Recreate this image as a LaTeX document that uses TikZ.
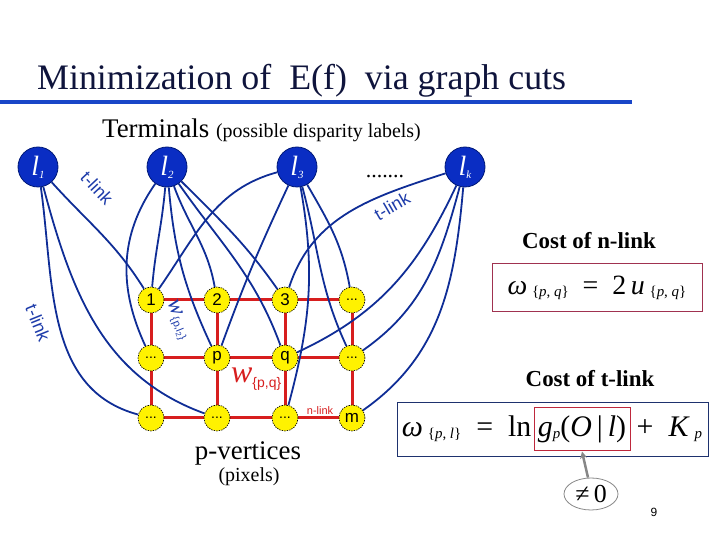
\documentclass[tikz,border=0pt]{standalone}
\usepackage{fontspec}
\setmainfont{Liberation Serif}
\setsansfont{Liberation Sans}
\usetikzlibrary{shapes.geometric,arrows.meta,backgrounds}
\definecolor{titlecol}{RGB}{15,20,60}
\definecolor{titleline}{RGB}{25,70,200}
\definecolor{termfill}{RGB}{10,45,195}
\definecolor{termdraw}{RGB}{0,25,120}
\definecolor{linkblue}{RGB}{15,45,150}
\definecolor{labblue}{RGB}{30,60,170}
\definecolor{gridred}{RGB}{215,30,30}
\definecolor{nboxcol}{RGB}{160,50,80}
\definecolor{tboxcol}{RGB}{30,50,110}
\definecolor{gboxcol}{RGB}{190,40,60}
\definecolor{arrgray}{RGB}{135,135,135}
\newcommand{\myfs}[1]{\fontsize{#1}{#1}\selectfont}
\newcommand{\tlab}[1]{\myfs{28}\textit{l}\raisebox{-3bp}{\myfs{11}\textit{#1}}}
\begin{document}
\begin{tikzpicture}[x=1bp,y=1bp,
  term/.style={circle, fill=termfill, draw=termdraw, line width=0.8bp, minimum size=40bp, inner sep=0, text=white},
  pv/.style={circle, fill=yellow, draw=black, line width=0.6bp, dash pattern=on 1.5bp off 1bp, minimum size=26bp, inner sep=0, font=\sffamily\myfs{17}},
  nl/.style={draw=gridred, line width=3bp},
  tl/.style={draw=linkblue, line width=1.8bp},
  tlabel/.style={text=labblue, font=\sffamily\myfs{18}, inner sep=0},
  plain/.style={inner sep=0}]
\useasboundingbox (0,0) rectangle (720,540);
% title
\node[plain, anchor=base west, text=titlecol] (title) at (37,450) {\myfs{36}Minimization of\ \ E(f)\ \ via graph cuts};
\coordinate (tlA) at (0,438);
\coordinate (tlB) at (632,438);
\draw[titleline, line width=4bp] (tlA) -- (tlB);
\node[plain, anchor=base west] (terms) at (102,402) {\myfs{27}Terminals {\myfs{20}(possible disparity labels)}};
% terminals
\node[term] (l1) at (38,373) {\tlab{1}};
\node[term] (l2) at (167,373) {\tlab{2}};
\node[term] (l3) at (297,373) {\tlab{3}};
\node[term] (lk) at (465,373) {\tlab{k}};
\node[plain, anchor=base] (dots) at (385,362) {\myfs{22}.......};
% pixel vertices
\node[pv] (a1) at (151,240) {1};
\node[pv] (a2) at (217,240) {2};
\node[pv] (a3) at (285,240) {3};
\node[pv] (a4) at (352,240) {\myfs{14}...};
\node[pv] (b1) at (151,182) {\myfs{14}...};
\node[pv] (b2) at (217,182) {p};
\node[pv] (b3) at (285,182) {q};
\node[pv] (b4) at (352,182) {\myfs{14}...};
\node[pv] (c1) at (151,122) {\myfs{14}...};
\node[pv] (c2) at (217,122) {\myfs{14}...};
\node[pv] (c3) at (285,122) {\myfs{14}...};
\node[pv] (c4) at (352,122) {m};
\begin{pgfonlayer}{background}
% n-links
\draw[nl] (a1) -- (a2) -- (a3) -- (a4);
\draw[nl] (b1) -- (b2) -- (b3) -- (b4);
\draw[nl] (c1) -- (c2) -- (c3) -- (c4);
\draw[nl] (a1) -- (b1) -- (c1);
\draw[nl] (a2) -- (b2) -- (c2);
\draw[nl] (a3) -- (b3) -- (c3);
\draw[nl] (a4) -- (b4) -- (c4);
% t-links
\draw[tl] (l1) to[out=-48,in=122] (a1);
\draw[tl] (l1) to[out=-82,in=165] (c1);
\draw[tl] (l1) to[out=-75,in=160] (c2);
\draw[tl] (l2) to[out=-125,in=115] (b1);
\draw[tl] (l2) to[out=-95,in=85] (a1);
\draw[tl] (l2) to[out=-85,in=115] (b2);
\draw[tl] (l2) to[out=-70,in=100] (a2);
\draw[tl] (l2) to[out=-55,in=110] (b3);
\draw[tl] (l2) to[out=-45,in=125] (a3);
\draw[tl] (l3) to[out=195,in=55] (a1);
\draw[tl] (l3) to[out=-115,in=70] (b2);
\draw[tl] (l3) to[out=-80,in=75] (c3);
\draw[tl] (l3) to[out=-75,in=115] (b4);
\draw[tl] (l3) to[out=-60,in=100] (a4);
\draw[tl] (lk) to[out=198,in=72] (a3);
\draw[tl] (lk) to[out=-115,in=25] (b3);
\draw[tl] (lk) to[out=-105,in=35] (b4);
\draw[tl] (lk) to[out=-95,in=35] (c4);
\end{pgfonlayer}
% link labels
\node[tlabel, rotate=-47] (tlab1) at (97,352) {t-link};
\node[tlabel, rotate=30] (tlab2) at (392,334) {t-link};
\node[tlabel, rotate=-68] (tlab3) at (38,217) {t-link};
\node[plain, text=labblue, rotate=-68] (wpl) at (178,220) {\myfs{24}\textit{w}\raisebox{-3bp}{\sffamily\myfs{11}\{p,l\textsubscript{2}\}}};
\node[plain, text=gridred, anchor=base west] (wpq) at (231,157) {\myfs{32}\textit{w}\raisebox{-5bp}{\sffamily\myfs{14}\{p,q\}}};
\node[plain, text=gridred, font=\sffamily\myfs{11}] (nlab) at (320,129) {n-link};
% bottom labels
\node[plain, anchor=base] (pvert) at (248,80) {\myfs{27}p-vertices};
\node[plain, anchor=base] (pix) at (249,58) {\myfs{20}(pixels)};
% cost of n-link
\node[plain] (ncost) at (589,299) {\myfs{23}\bfseries Cost of n-link};
\node[draw=nboxcol, line width=1bp, minimum width=210bp, minimum height=48bp, inner sep=0] (nbox) at (597,252)
  {\myfs{28}\textit{ω}\,\raisebox{-2bp}{\myfs{15}\{\textit{p}, \textit{q}\}}\enspace=\enspace 2\,\textit{u}\,\raisebox{-2bp}{\myfs{15}\{\textit{p}, \textit{q}\}}};
% cost of t-link
\node[plain] (tcost) at (590,161) {\myfs{23}\bfseries Cost of t-link};
\node[draw=tboxcol, line width=1bp, minimum width=311bp, minimum height=54bp, inner sep=0] (tbox) at (552.5,110) {};
\node[draw=gboxcol, line width=1bp, minimum width=96bp, minimum height=43bp, inner sep=0] (gbox) at (582,110.5)
  {\myfs{30}\textit{g}\raisebox{-2bp}{\myfs{15}\textit{p}}(\textit{O}\,|\,\textit{l})};
\node[plain, anchor=base east, xshift=-2bp] (tf1) at (gbox.base west)
  {\myfs{30}\textit{ω}\,\raisebox{-2bp}{\myfs{15}\{\textit{p}, \textit{l}\}}\enspace=\enspace ln};
\node[plain, anchor=base west, xshift=6bp] (tf2) at (gbox.base east)
  {\myfs{30}+\enspace\textit{K}\,\raisebox{-2bp}{\myfs{15}\textit{p}}};
\node[ellipse, draw=arrgray, line width=0.8bp, minimum width=54bp, minimum height=32bp, inner sep=0] (ne) at (591,46) {\myfs{26}≠\,0};
\draw[draw=arrgray, line width=2.5bp, -{Stealth[length=7bp,width=7bp]}] ([xshift=-3bp]ne.north) -- (gbox.south);
\node[plain, font=\sffamily\myfs{12}] (pg) at (654,28) {9};
\end{tikzpicture}
\end{document}
